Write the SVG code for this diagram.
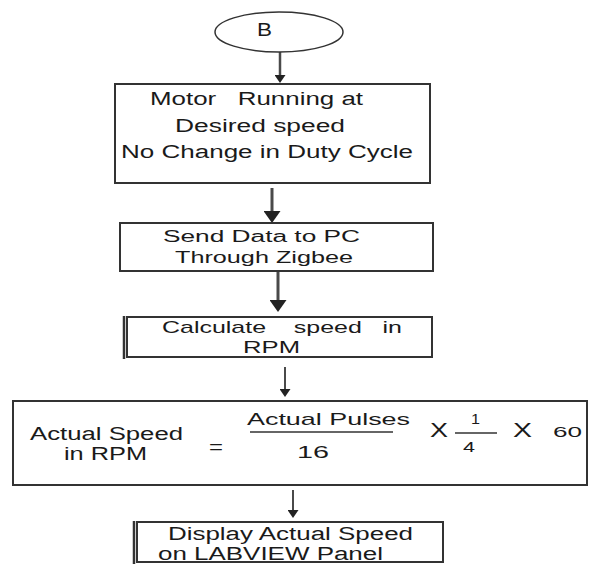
<svg xmlns="http://www.w3.org/2000/svg" width="591" height="564" viewBox="0 0 591 564">
<style>
  .bx{fill:#fff;stroke:#333;stroke-width:2}
  .t{font-family:"Liberation Sans",Arial,sans-serif;fill:#1a1a1a}
  .ln{stroke:#4a4a4a;fill:none}
  .fr{stroke:#333;stroke-width:1.5}
</style>
<defs>
  <marker id="big" markerUnits="userSpaceOnUse" markerWidth="12" markerHeight="17" refX="0" refY="8.5" orient="auto" viewBox="0 0 12 17">
    <path d="M0,0 L12,8.5 L0,17 z" fill="#222"/>
  </marker>
  <marker id="small" markerUnits="userSpaceOnUse" markerWidth="8" markerHeight="11" refX="0" refY="5.5" orient="auto" viewBox="0 0 8 11">
    <path d="M0,0 L8,5.5 L0,11 z" fill="#222"/>
  </marker>
</defs>
<rect width="591" height="564" fill="#fff"/>
<g id="connectors">
  <line class="ln" x1="280" y1="52" x2="280" y2="75" stroke-width="2.5" marker-end="url(#small)"/>
  <line class="ln" x1="272" y1="188" x2="272" y2="211" stroke-width="3" marker-end="url(#big)"/>
  <line class="ln" x1="278" y1="271" x2="278" y2="300" stroke-width="3" marker-end="url(#big)"/>
  <line class="ln" x1="285" y1="367" x2="285" y2="389" stroke-width="2" marker-end="url(#small)"/>
  <line class="ln" x1="293" y1="490" x2="293" y2="510" stroke-width="2" marker-end="url(#small)"/>
</g>
<g id="nodeB">
  <ellipse cx="279" cy="32" rx="64" ry="20" fill="#fff" stroke="#333" stroke-width="1.5"/>
  <text class="t" x="257" y="36" font-size="18" textLength="15" lengthAdjust="spacingAndGlyphs">B</text>
</g>
<g id="node1">
  <rect class="bx" x="115" y="84" width="315" height="99"/>
  <text class="t" x="150" y="105" font-size="18" xml:space="preserve" textLength="213" lengthAdjust="spacingAndGlyphs">Motor   Running at</text>
  <text class="t" x="175" y="132" font-size="18" textLength="170" lengthAdjust="spacingAndGlyphs">Desired speed</text>
  <text class="t" x="121" y="158" font-size="18" textLength="292" lengthAdjust="spacingAndGlyphs">No Change in Duty Cycle</text>
</g>
<g id="node2">
  <rect class="bx" x="120" y="223" width="313" height="48"/>
  <text class="t" x="163" y="242" font-size="16" textLength="197" lengthAdjust="spacingAndGlyphs">Send Data to PC</text>
  <text class="t" x="175" y="263" font-size="16" textLength="178" lengthAdjust="spacingAndGlyphs">Through Zigbee</text>
</g>
<g id="node3">
  <rect class="bx" x="127" y="317" width="305" height="40"/>
  <line x1="124" y1="316" x2="124" y2="359" stroke="#333" stroke-width="2.5"/>
  <text class="t" x="162" y="333" font-size="17" xml:space="preserve" textLength="240" lengthAdjust="spacingAndGlyphs">Calculate    speed   in</text>
  <text class="t" x="243" y="353" font-size="17" textLength="57" lengthAdjust="spacingAndGlyphs">RPM</text>
</g>
<g id="node4">
  <rect class="bx" x="13" y="401" width="574" height="84"/>
  <text class="t" x="30" y="440" font-size="18" textLength="153" lengthAdjust="spacingAndGlyphs">Actual Speed</text>
  <text class="t" x="64" y="460" font-size="18" textLength="83" lengthAdjust="spacingAndGlyphs">in RPM</text>
  <text class="t" x="209" y="453" font-size="18" textLength="14" lengthAdjust="spacingAndGlyphs">=</text>
  <text class="t" x="247" y="425" font-size="17" textLength="163" lengthAdjust="spacingAndGlyphs">Actual Pulses</text>
  <line class="fr" x1="250" y1="432" x2="393" y2="432"/>
  <text class="t" x="297" y="458" font-size="17" textLength="32" lengthAdjust="spacingAndGlyphs">16</text>
  <text class="t" x="430" y="437" font-size="20" textLength="18" lengthAdjust="spacingAndGlyphs">X</text>
  <text class="t" x="471" y="424" font-size="15" textLength="9" lengthAdjust="spacingAndGlyphs">1</text>
  <line class="fr" x1="455" y1="433" x2="497" y2="433"/>
  <text class="t" x="463" y="452" font-size="15" textLength="12" lengthAdjust="spacingAndGlyphs">4</text>
  <text class="t" x="513" y="437" font-size="20" textLength="19" lengthAdjust="spacingAndGlyphs">X</text>
  <text class="t" x="553" y="437" font-size="15" textLength="29" lengthAdjust="spacingAndGlyphs">60</text>
</g>
<g id="node5">
  <rect class="bx" x="137" y="522" width="306" height="40"/>
  <line x1="134" y1="521" x2="134" y2="564" stroke="#333" stroke-width="2.5"/>
  <text class="t" x="168" y="540" font-size="18" textLength="245" lengthAdjust="spacingAndGlyphs">Display Actual Speed</text>
  <text class="t" x="158" y="560" font-size="18" textLength="225" lengthAdjust="spacingAndGlyphs">on LABVIEW Panel</text>
</g>
</svg>
